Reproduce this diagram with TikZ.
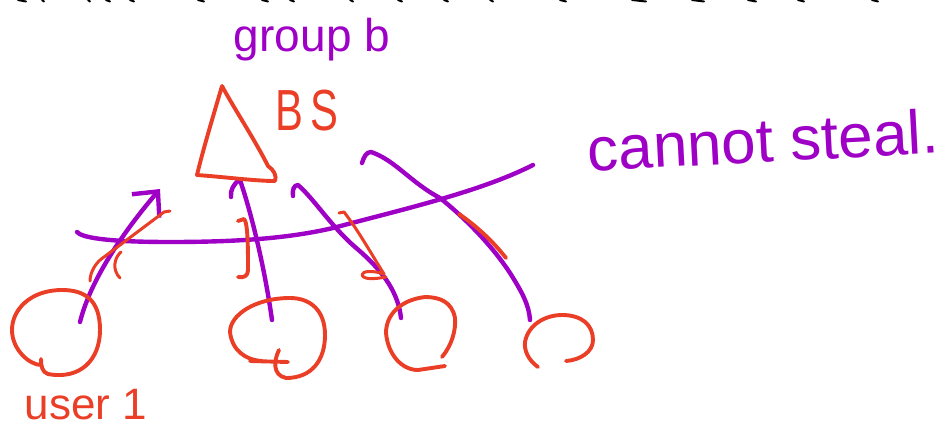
\documentclass[tikz,border=0pt]{standalone}
\usepackage{fontspec}
\setmainfont{Liberation Sans}
\usetikzlibrary{arrows.meta}
\definecolor{pen}{HTML}{9E00C6}
\definecolor{ink}{HTML}{EB3E26}
\begin{document}
\begin{tikzpicture}[x=1pt,y=-1pt,line cap=round,line join=round,
  pstroke/.style={draw=pen,line width=4.4pt},
  rstroke/.style={draw=ink,line width=3.9pt},
  thinred/.style={draw=ink,line width=3pt},
  barb/.style={-{Straight Barb[length=19pt,width=36pt]}},
  blackbit/.style={draw=black,line width=2pt},
  ptext/.style={text=pen,inner sep=0pt},
  rtext/.style={text=ink,inner sep=0pt}]
\useasboundingbox (0,0) rectangle (952,429);
% cut-off text at the very top
\foreach \a/\b in {18/26,42/44,88/90,106/110,130/134,198/204,262/268,290/294,350/353,398/402,444/448,490/493,560/566,632/646,692/704,748/756,798/804,872/878}
  \draw[blackbit] (\a,0) -- (\b,1.5);
% labels
\node[ptext,font=\fontsize{46}{48}\selectfont] (grp) at (312,40) {group b};
\node[rtext,font=\fontsize{58}{60}\selectfont] (bslabel) at (307,111) {\scalebox{0.72}[1]{B\,S}};
\node[ptext,font=\fontsize{62}{64}\selectfont,rotate=3] (steal) at (763,140) {cannot steal.};
\node[rtext,font=\fontsize{44}{46}\selectfont] (user1) at (86,405) {user 1};
% anchor points
\coordinate (bs) at (240,180);
\coordinate (u1) at (80,322);
\coordinate (u2) at (272,320);
\coordinate (u3) at (401,318);
\coordinate (u4) at (530,320);
\coordinate (lineL) at (77,232);
\coordinate (lineR) at (533,165);
% arrows user -> BS
\draw[pstroke,barb] (u1) .. controls (90,282) and (120,236) .. (160,189);
\draw[pstroke] (u2) .. controls (265,270) and (252,215) .. (bs);
\draw[pstroke] (231,197) .. controls (230,190) and (234,184) .. (239,180);
% arrows BS -> users (start hooks)
\draw[pstroke] (293,196) .. controls (292,190) and (294,185) .. (298,185)
  .. controls (315,200) and (330,225) .. (355,247)
  .. controls (380,268) and (398,290) .. (u3);
\draw[pstroke] (362,163) .. controls (364,157) and (366,152) .. (371,152)
  .. controls (395,160) and (410,182) .. (440,198)
  .. controls (470,222) and (495,250) .. (510,273)
  .. controls (522,292) and (529,305) .. (u4);
% dividing line
\draw[pstroke] (lineL) .. controls (82,238) and (110,242) .. (170,242)
  .. controls (240,242) and (290,238) .. (333,228)
  .. controls (400,210) and (480,192) .. (lineR);
% base station triangle
\draw[rstroke] (222,86) .. controls (212,120) and (203,150) .. (197,175)
  .. controls (225,177) and (255,181) .. (275,181)
  .. controls (277,176) and (274,170) .. (268,166)
  .. controls (255,140) and (235,110) .. (222,86);
% red marks on arrows
\draw[thinred] (90,281) .. controls (90,272) and (96,262) .. (104,257) -- (164,212) -- (170,211);
\draw[thinred] (121,252) .. controls (114,258) and (112,270) .. (120,278);
\draw[rstroke] (238,221) -- (244,219) .. controls (248,222) and (248,250) .. (248,270) .. controls (248,276) and (244,278) .. (238,277);
\draw[thinred] (339,213) -- (344,212) .. controls (358,230) and (372,255) .. (384,274)
  .. controls (372,270) and (362,271) .. (362,275) .. controls (364,280) and (375,279) .. (386,277);
\draw[rstroke] (459,214) .. controls (475,225) and (492,240) .. (506,258);
% user circles
\draw[rstroke] (41,359) .. controls (41,366) and (42,372) .. (48,374)
  .. controls (80,380) and (100,360) .. (100,330)
  .. controls (100,300) and (85,290) .. (62,290)
  .. controls (30,290) and (12,310) .. (12,330)
  .. controls (12,350) and (30,365) .. (41,365);
\draw[rstroke] (250,361) -- (288,362);
\draw[rstroke] (279,350) .. controls (274,360) and (272,375) .. (286,378)
  .. controls (312,378) and (325,360) .. (325,335)
  .. controls (325,310) and (310,298) .. (290,298)
  .. controls (255,298) and (230,315) .. (230,332)
  .. controls (232,350) and (245,360) .. (262,361);
\draw[rstroke] (442,357) .. controls (452,345) and (456,330) .. (455,318)
  .. controls (452,302) and (440,297) .. (425,297)
  .. controls (400,300) and (386,315) .. (386,333)
  .. controls (388,355) and (402,370) .. (418,370)
  -- (445,366);
\draw[rstroke] (538,367) .. controls (528,360) and (524,350) .. (525,342)
  .. controls (528,325) and (545,315) .. (562,315)
  .. controls (582,315) and (593,325) .. (593,340)
  .. controls (593,352) and (580,360) .. (566,361);
\end{tikzpicture}
\end{document}
